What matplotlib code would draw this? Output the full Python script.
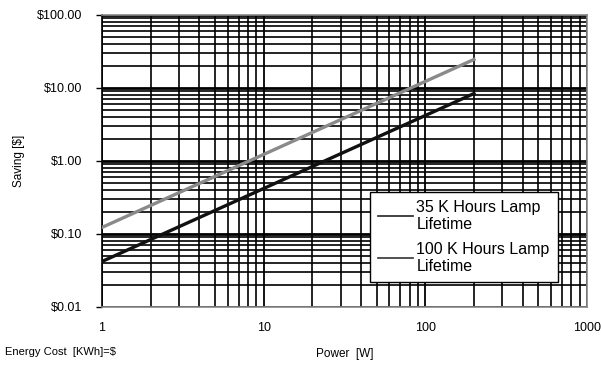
import matplotlib
matplotlib.use("Agg")
import matplotlib.pyplot as plt
import matplotlib.ticker as ticker
from matplotlib.lines import Line2D

plt.rcParams["font.family"] = ["Liberation Sans", "DejaVu Sans"]

# values (log-log, straight lines)
power_w = [1, 2, 5, 10, 20, 50, 100, 200]
saving_35k = [0.042, 0.084, 0.21, 0.42, 0.84, 2.1, 4.2, 8.4]
saving_100k = [0.123, 0.246, 0.615, 1.23, 2.46, 6.15, 12.3, 24.6]
legend_labels = ["35 K Hours Lamp\nLifetime", "100 K Hours Lamp\nLifetime"]
y_ticks = [0.01, 0.1, 1, 10, 100]
y_ticklabels = ["$0.01", "$0.10", "$1.00", "$10.00", "$100.00"]
x_ticks = [1, 10, 100, 1000]
x_ticklabels = ["1", "10", "100", "1000"]

fig = plt.figure(figsize=(6.01, 3.70), dpi=100)
ax = fig.add_axes([0.1697, 0.1703, 0.8070, 0.7892])

ax.plot(power_w, saving_35k, color="#111111", lw=2.4, zorder=3)
ax.plot(power_w, saving_100k, color="#8a8a8a", lw=2.4, zorder=3)

ax.set_xscale("log")
ax.set_yscale("log")
ax.set_xlim(1, 1000)
ax.set_ylim(0.01, 100)

# gridlines: everything black, majors a bit heavier
ax.xaxis.set_minor_locator(ticker.LogLocator(base=10, subs=range(2, 10)))
ax.yaxis.set_minor_locator(ticker.LogLocator(base=10, subs=range(2, 10)))
ax.grid(True, which="major", axis="y", color="black", lw=2.0)
ax.grid(True, which="major", axis="x", color="black", lw=1.3)
ax.grid(True, which="minor", color="black", lw=1.2)
ax.set_axisbelow(True)

ax.set_yticks(y_ticks)
ax.set_yticklabels(y_ticklabels)
ax.set_xticks(x_ticks)
ax.set_xticklabels(x_ticklabels)
ax.yaxis.set_minor_formatter(ticker.NullFormatter())
ax.xaxis.set_minor_formatter(ticker.NullFormatter())
ax.tick_params(axis="both", which="minor", length=0)
ax.tick_params(axis="y", which="major", length=4, width=1, labelsize=9, pad=10)
ax.tick_params(axis="x", which="major", length=0, labelsize=9, pad=11)

for s in ax.spines.values():
    s.set_color("#888888")
    s.set_linewidth(1.2)
ax.spines["left"].set_color("black")

ax.set_xlabel("Power  [W]", fontsize=8.5, labelpad=10)
ax.set_ylabel("Saving [$]", fontsize=8.5, labelpad=9)

handles = [Line2D([], [], color="#222222", lw=1.2),
           Line2D([], [], color="#333333", lw=1.2)]
leg = ax.legend(handles, legend_labels, loc="lower right",
                bbox_to_anchor=(0.956, 0.058), fontsize=11.5,
                frameon=True, fancybox=False, framealpha=1,
                edgecolor="black", handlelength=2.2, handletextpad=0.2,
                labelspacing=0.6, borderpad=0.5)
leg.get_frame().set_linewidth(1.0)
leg.set_zorder(5)

fig.text(0.008, 0.035, "Energy Cost  [KWh]=$", fontsize=8, ha="left", va="bottom")

fig.savefig("out.png", dpi=100)
